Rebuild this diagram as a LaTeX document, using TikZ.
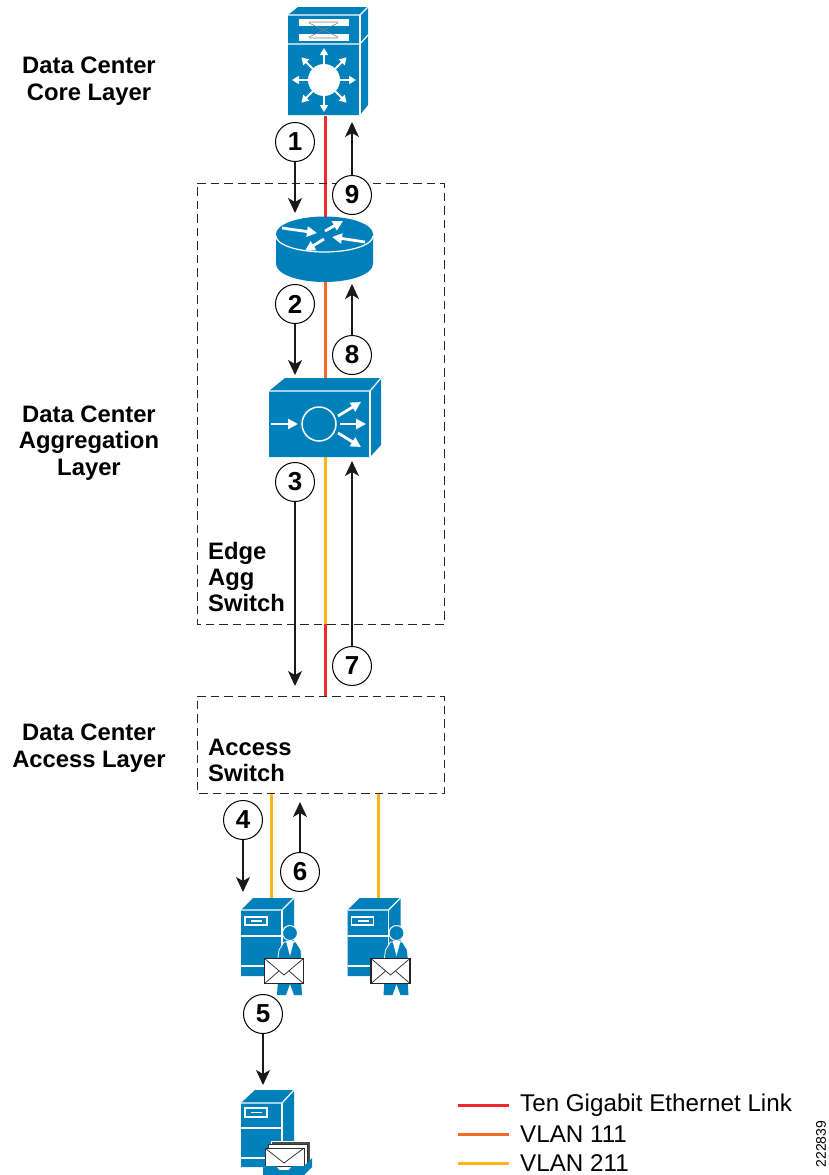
\documentclass[tikz,border=0pt]{standalone}
\usepackage{fontspec}
\setmainfont{Liberation Sans}
\usetikzlibrary{arrows.meta}
\definecolor{ciscoblue}{HTML}{0080BA}
\definecolor{linkred}{HTML}{EE2A2E}
\definecolor{linkorange}{HTML}{F26A2A}
\definecolor{linkyellow}{HTML}{FDB515}
\tikzset{
  layerlabel/.style={font=\fontsize{23.8}{26.5}\selectfont\bfseries,align=center},
  boxlabel/.style={font=\fontsize{23.8}{26}\selectfont\bfseries,align=left,anchor=west},
  legendlabel/.style={font=\fontsize{24.2}{26}\selectfont,anchor=west},
  stepnum/.style={circle,draw,fill=white,line width=1pt,minimum size=39pt,inner sep=0pt,font=\fontsize{26}{28}\selectfont\bfseries},
  flow/.style={line width=1.2pt,black!90,-{Stealth[length=15pt,width=14pt,inset=4pt]}},
  dashbox/.style={draw,black!85,line width=1pt,dash pattern=on 8.5pt off 5pt},
  link/.style={line width=3pt},
  wline/.style={draw=white,line width=1.2pt},
  warrow/.style={draw=white,line width=2.8pt,-{Triangle[length=10pt,width=10pt]}},
}
\begin{document}
\begin{tikzpicture}[x=1pt,y=-1pt]
\useasboundingbox (0,0) rectangle (828,1175);

% links
\coordinate (corebot) at (325,116);
\coordinate (routertop) at (325,218);
\coordinate (routerbot) at (325,281);
\coordinate (aggtop) at (325,379);
\coordinate (aggbot) at (325,457);
\coordinate (edgebot) at (325,624);
\coordinate (accesstop) at (325,696);
\coordinate (accessleft) at (271,793);
\coordinate (accessright) at (378,793);
\coordinate (srvleft) at (271,898);
\coordinate (srvright) at (378,898);
\draw[link,linkred] (corebot)--(routertop);
\draw[link,linkorange] (routerbot)--(aggtop);
\draw[link,linkyellow] (aggbot)--(edgebot);
\draw[link,linkred] (edgebot)--(accesstop);
\draw[link,linkyellow] (accessleft)--(srvleft);
\draw[link,linkyellow] (accessright)--(srvright);

% dashed boxes
\path[dashbox] (197,183)--(444,183)--(444,624)--(197,624)--cycle;
\path[dashbox] (197,696)--(444,696)--(444,793)--(197,793)--cycle;

% core switch
\path[fill=ciscoblue] (288,15)--(298,7)--(368,7)--(368,105)--(360,115)--(288,115)--cycle;
\draw[wline] (288,15)--(360,15)--(368,7);
\draw[wline] (360,15)--(360,115);
\draw[wline] (288,44)--(360,44)--(368,35);
\path[fill=white] (299,19)--(349,19)--(349,26)--(299,26)--cycle;
\path[fill=white] (299,34)--(349,34)--(349,41)--(299,41)--cycle;
\draw[gray,line width=0.6pt] (309,23)--(338,37) (309,37)--(338,23) (309,22)--(338,22) (309,38)--(338,38);
\path[fill=white] (324,80) circle (16);
\foreach \a in {0,45,...,315}
  \draw[draw=white,line width=1.8pt,-{Triangle[length=7pt,width=8pt]}] (324,80)++(\a:15)--++(\a:17);

% router
\path[fill=ciscoblue] (276,234)--(276,264) arc[start angle=180,end angle=0,x radius=48.5,y radius=18]--(373,234) arc[start angle=0,end angle=-180,x radius=48.5,y radius=17.5]--cycle;
\draw[wline] (276,236) arc[start angle=180,end angle=0,x radius=48.5,y radius=16];
\draw[warrow] (282,228)--(317,233);
\draw[warrow] (325,231)--(343,221);
\draw[warrow] (365,242)--(332,237);
\draw[warrow] (324,239)--(305,251);

% aggregation switch
\path[fill=ciscoblue] (269,391)--(285,378)--(381,378)--(381,445)--(370,457)--(269,457)--cycle;
\draw[wline] (269,391)--(370,391)--(381,378);
\draw[wline] (370,391)--(370,457);
\draw[draw=white,line width=1.5pt] (319,424) circle (17);
\draw[warrow] (271,424)--(298,424);
\draw[warrow] (340,424)--(366,424);
\draw[warrow] (338,416)--(361,402);
\draw[warrow] (338,433)--(361,447);

% servers with a person and a letter
\foreach \sx in {0,106.5}{
\begin{scope}[xshift=\sx pt]
\path[fill=ciscoblue] (241,910)--(253,898)--(294,898)--(294,960)--(282,976)--(241,976)--cycle;
\draw[wline] (241,910)--(282,910)--(294,898);
\draw[wline] (282,910)--(282,976);
\draw[wline] (241,936)--(282,936);
\draw[wline] (241,966)--(282,966);
\draw[wline] (245,917)--(267,917)--(267,925)--(245,925)--cycle;
\draw[wline] (251,921)--(262,921);
\path[fill=ciscoblue,draw=white,line width=0.8pt] (277,965)--(279,950)--(284,942)--(296,942)--(301,950)--(302,965)--cycle;
\path[fill=white] (286,941)--(294,941)--(290,956)--cycle;
\path[fill=ciscoblue] (278,980)--(301,980)--(302,995)--(294,995)--(290,984)--(286,995)--(277,995)--cycle;
\path[fill=ciscoblue,draw=white,line width=1pt] (290,933) circle (7.5);
\path[fill=white,draw=black!85,line width=1.2pt] (264.5,958.5)--(303.5,958.5)--(303.5,983.5)--(264.5,983.5)--cycle;
\draw[black!85,line width=0.7pt] (264.5,958.5)--(284,975)--(303.5,958.5);
\draw[black!85,line width=0.7pt] (264.5,983.5)--(279,971);
\draw[black!85,line width=0.7pt] (303.5,983.5)--(289,971);
\end{scope}
}

% mail server
\path[fill=ciscoblue] (241,1103)--(255,1090)--(294,1090)--(294,1160)--(282,1167)--(241,1167)--cycle;
\draw[wline] (241,1103)--(282,1103)--(294,1090);
\draw[wline] (282,1103)--(282,1167);
\draw[wline] (241,1128)--(282,1128);
\draw[wline] (241,1158)--(282,1158);
\draw[wline] (245,1108)--(267,1108)--(267,1117)--(245,1117)--cycle;
\draw[wline] (251,1112.5)--(262,1112.5);
\path[fill=black!70,draw=white,line width=0.5pt] (271,1141)--(310,1141)--(310,1163)--(271,1163)--cycle;
\path[fill=white,draw=black!80,line width=0.8pt] (268.5,1144)--(307,1144)--(307,1166)--(268.5,1166)--cycle;
\path[fill=white,draw=black!80,line width=0.8pt] (265,1148)--(304,1148)--(304,1166)--(265,1166)--cycle;
\draw[black!85,line width=0.7pt] (265,1148)--(284,1163)--(304,1148);
\path[fill=ciscoblue] (263,1166)--(276,1166)--(279,1170)--(289,1170)--(292,1166)--(304,1166)--(312,1158)--(312,1167)--(304,1175)--(263,1175)--cycle;

% steps
\node[stepnum] (n1) at (295,142) {1};
\node[stepnum] (n2) at (295,304) {2};
\node[stepnum] (n3) at (295,482) {3};
\node[stepnum] (n4) at (243,820) {4};
\node[stepnum] (n5) at (263,1014) {5};
\node[stepnum] (n6) at (300,872) {6};
\node[stepnum] (n7) at (352,666) {7};
\node[stepnum] (n8) at (352,355) {8};
\node[stepnum] (n9) at (352,195) {9};
\coordinate (a1) at (295,213);
\coordinate (a2) at (295,375);
\coordinate (a3) at (295,686);
\coordinate (a4) at (243,892);
\coordinate (a5) at (263,1085);
\coordinate (a6) at (300,802);
\coordinate (a7) at (352,461);
\coordinate (a8) at (352,284);
\coordinate (a9) at (352,122);
\foreach \i in {1,...,9}
  \draw[flow] (n\i)--(a\i);

% labels
\node[layerlabel] (corelabel) at (89,81) {Data Center\\Core Layer};
\node[layerlabel] (agglabel) at (89,443) {Data Center\\Aggregation\\Layer};
\node[layerlabel] (accesslabel) at (89,748) {Data Center\\Access Layer};
\node[boxlabel,inner sep=0pt] (edgelabel) at (208,576.5) {Edge\\Agg\\Switch};
\node[boxlabel,inner sep=0pt] (switchlabel) at (208,760) {Access\\Switch};

% legend
\coordinate (l1a) at (458,1105);
\coordinate (l1b) at (509,1105);
\coordinate (l2a) at (458,1134);
\coordinate (l2b) at (509,1134);
\coordinate (l3a) at (458,1163);
\coordinate (l3b) at (509,1163);
\draw[line width=3pt,linkred] (l1a)--(l1b);
\draw[line width=3pt,linkorange] (l2a)--(l2b);
\draw[line width=3pt,linkyellow] (l3a)--(l3b);
\node[legendlabel,inner sep=0pt] (leg1) at (520,1105) {Ten Gigabit Ethernet Link};
\node[legendlabel,inner sep=0pt] (leg2) at (520,1134) {VLAN 111};
\node[legendlabel,inner sep=0pt] (leg3) at (520,1163) {VLAN 211};
\node[rotate=90,inner sep=0pt,font=\fontsize{14}{16}\selectfont] (figid) at (821,1144) {222839};
\end{tikzpicture}
\end{document}
